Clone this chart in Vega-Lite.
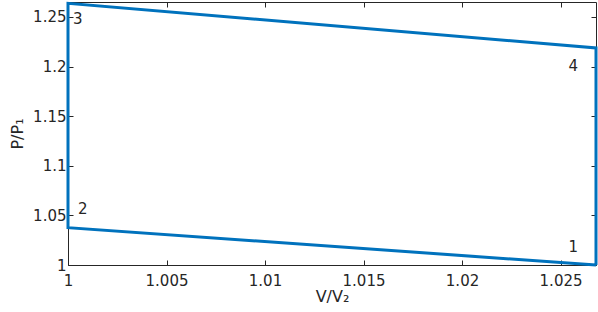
{
  "$schema": "https://vega.github.io/schema/vega-lite/v6.json",
  "width": 528,
  "height": 263,
  "autosize": "none",
  "padding": {"left": 68, "top": 2, "right": 2, "bottom": 47},
  "background": "white",
  "config": {
    "view": {"stroke": null},
    "font": "DejaVu Sans",
    "axis": {
      "grid": false,
      "domainColor": "#262626",
      "tickColor": "#262626",
      "tickSize": -5,
      "labelColor": "#262626",
      "labelFont": "DejaVu Sans",
      "labelFontSize": 15,
      "titleFont": "DejaVu Sans",
      "titleFontSize": 16,
      "titleFontWeight": "normal",
      "titleColor": "#262626",
      "domainWidth": 1,
      "labelFlush": false
    }
  },
  "datasets": {
    "cycle": [
      {"V": 1.0268, "P": 1.0, "order": 1},
      {"V": 1.0, "P": 1.0376, "order": 2},
      {"V": 1.0, "P": 1.2637, "order": 3},
      {"V": 1.0268, "P": 1.2187, "order": 4},
      {"V": 1.0268, "P": 1.0, "order": 5}
    ],
    "labels": [
      {"V": 1.0005, "P": 1.2475, "label": "3"},
      {"V": 1.00075, "P": 1.0565, "label": "2"},
      {"V": 1.02565, "P": 1.2005, "label": "4"},
      {"V": 1.02565, "P": 1.0185, "label": "1"}
    ]
  },
  "resolve": {"axis": {"x": "independent", "y": "independent"}},
  "layer": [
    {
      "data": {"name": "cycle"},
      "mark": {"type": "line", "color": "#0072BD", "strokeWidth": 3, "clip": false},
      "encoding": {
        "x": {"field": "V", "type": "quantitative",
              "scale": {"domain": [1.0, 1.0268], "nice": false, "zero": false},
              "axis": {"values": [1, 1.005, 1.01, 1.015, 1.02, 1.025], "format": "~g", "title": "V/V₂", "labelPadding": 13, "titlePadding": 0}},
        "y": {"field": "P", "type": "quantitative",
              "scale": {"domain": [1.0, 1.265], "nice": false, "zero": false},
              "axis": {"values": [1, 1.05, 1.1, 1.15, 1.2, 1.25], "format": "~g", "title": "P/P₁", "labelPadding": 7, "titlePadding": 7}},
        "order": {"field": "order", "type": "quantitative"}
      }
    },
    {
      "data": {"name": "labels"},
      "mark": {"type": "text", "fontSize": 15, "color": "#262626", "font": "DejaVu Sans", "align": "center", "baseline": "middle"},
      "encoding": {
        "x": {"field": "V", "type": "quantitative", "scale": {"domain": [1.0, 1.0268], "nice": false, "zero": false},
              "axis": {"orient": "top", "values": [1, 1.005, 1.01, 1.015, 1.02, 1.025], "labels": false, "title": null}},
        "y": {"field": "P", "type": "quantitative", "scale": {"domain": [1.0, 1.265], "nice": false, "zero": false},
              "axis": {"orient": "right", "values": [1, 1.05, 1.1, 1.15, 1.2, 1.25], "labels": false, "title": null}},
        "text": {"field": "label"}
      }
    }
  ]
}
